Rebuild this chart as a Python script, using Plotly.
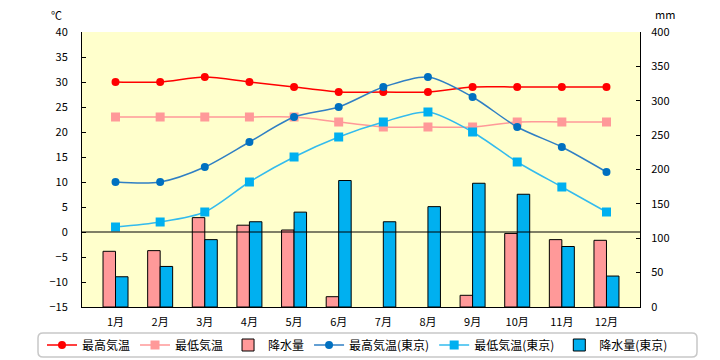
import plotly.graph_objects as go

months = ["1月", "2月", "3月", "4月", "5月", "6月", "7月", "8月", "9月", "10月", "11月", "12月"]
t_max = [30, 30, 31, 30, 29, 28, 28, 28, 29, 29, 29, 29]
t_min = [23, 23, 23, 23, 23, 22, 21, 21, 21, 22, 22, 22]
precip = [81, 82, 130, 119, 112, 15, 0, 0, 17, 107, 98, 97]
tokyo_max = [10, 10, 13, 18, 23, 25, 29, 31, 27, 21, 17, 12]
tokyo_min = [1, 2, 4, 10, 15, 19, 22, 24, 20, 14, 9, 4]
tokyo_precip = [44, 59, 98, 124, 138, 184, 124, 146, 180, 164, 88, 45]

FONT = "Noto Sans CJK JP"
OFF = 8  # the page body adds an 8px margin around the figure
W, H = 720 - OFF, 360 - OFF
L, T = 82 - OFF, 32 - OFF
R, B = 80, 53
PW, PH = W - L - R, H - T - B


def px_x(x):
    return (x - OFF - L) / PW


def px_y(y):
    return (H - B - (y - OFF)) / PH


fig = go.Figure()

fig.add_trace(go.Scatter(x=months, y=t_max, name="最高気温", yaxis="y2", mode="lines+markers",
                         line=dict(color="#FF0000", width=1.5, shape="spline", smoothing=0.8),
                         marker=dict(symbol="circle", size=8, color="#FF0000")))
fig.add_trace(go.Scatter(x=months, y=t_min, name="最低気温", yaxis="y2", mode="lines+markers",
                         line=dict(color="#FF9999", width=1.5, shape="spline", smoothing=0.8),
                         marker=dict(symbol="square", size=9, color="#FF9999")))
fig.add_trace(go.Bar(x=months, y=precip, name="降水量", yaxis="y",
                     marker=dict(color="#FF9999",
                                 line=dict(color="#000000", width=[1 if v > 0 else 0 for v in precip]))))
fig.add_trace(go.Scatter(x=months, y=tokyo_max, name="最高気温(東京)", yaxis="y2", mode="lines+markers",
                         line=dict(color="#2F7FC4", width=1.5, shape="spline", smoothing=0.8),
                         marker=dict(symbol="circle", size=8, color="#0070C0")))
fig.add_trace(go.Scatter(x=months, y=tokyo_min, name="最低気温(東京)", yaxis="y2", mode="lines+markers",
                         line=dict(color="#33BBEE", width=1.5, shape="spline", smoothing=0.8),
                         marker=dict(symbol="square", size=9, color="#00B0F0")))
fig.add_trace(go.Bar(x=months, y=tokyo_precip, name="降水量(東京)", yaxis="y",
                     marker=dict(color="#00B0F0",
                                 line=dict(color="#000000", width=[1 if v > 0 else 0 for v in tokyo_precip]))))

r = 5
x0, x1 = px_x(38), px_x(697)
y0, y1 = px_y(333), px_y(357)
rx, ry = r / PW, r / PH
box = (f"M {x0 + rx},{y0} L {x1 - rx},{y0} Q {x1},{y0} {x1},{y0 - ry} "
       f"L {x1},{y1 + ry} Q {x1},{y1} {x1 - rx},{y1} "
       f"L {x0 + rx},{y1} Q {x0},{y1} {x0},{y1 + ry} "
       f"L {x0},{y0 - ry} Q {x0},{y0} {x0 + rx},{y0} Z")

fig.update_layout(
    width=W, height=H,
    margin=dict(l=L, r=R, t=T, b=B, pad=0, autoexpand=False),
    paper_bgcolor="#FFFFFF", plot_bgcolor="#FFFFCC",
    font=dict(family=FONT, size=11, color="#000000"),
    barmode="group", bargap=0.44, bargroupgap=0,
    showlegend=True,
    legend=dict(orientation="h", x=px_x(42), xanchor="left", y=px_y(345), yanchor="middle",
                bgcolor="rgba(0,0,0,0)", font=dict(size=12), traceorder="normal",
                itemwidth=30, borderwidth=0),
    xaxis=dict(showline=True, linecolor="#000000", linewidth=1, ticks="", showgrid=False,
               tickfont=dict(size=11), ticklabelstandoff=5, automargin=False),
    yaxis=dict(side="right", range=[0, 400], dtick=50, showgrid=False, zeroline=False,
               showline=True, linecolor="#000000", linewidth=1, ticks="inside", ticklen=4,
               tickcolor="#000000", ticklabelstandoff=8, automargin=False),
    yaxis2=dict(side="left", overlaying="y", range=[-15, 40], dtick=5, showgrid=False,
                zeroline=False, showline=True, linecolor="#000000", linewidth=1,
                ticks="inside", ticklen=4, tickcolor="#000000", ticklabelstandoff=11,
                automargin=False),
    shapes=[
        dict(type="line", xref="paper", yref="y2", x0=0, x1=1, y0=0, y1=0,
             line=dict(color="#000000", width=1.2), layer="above"),
        dict(type="path", xref="paper", yref="paper", path=box,
             line=dict(color="#C8C8C8", width=1.5), fillcolor="rgba(0,0,0,0)", layer="below"),
    ],
    annotations=[
        dict(text="℃", xref="paper", yref="paper", x=px_x(56), y=px_y(15), showarrow=False,
             xanchor="center", yanchor="middle", font=dict(size=11)),
        dict(text="mm", xref="paper", yref="paper", x=px_x(665), y=px_y(14), showarrow=False,
             xanchor="center", yanchor="middle", font=dict(size=11)),
    ],
)

fig.write_html("out.html")
